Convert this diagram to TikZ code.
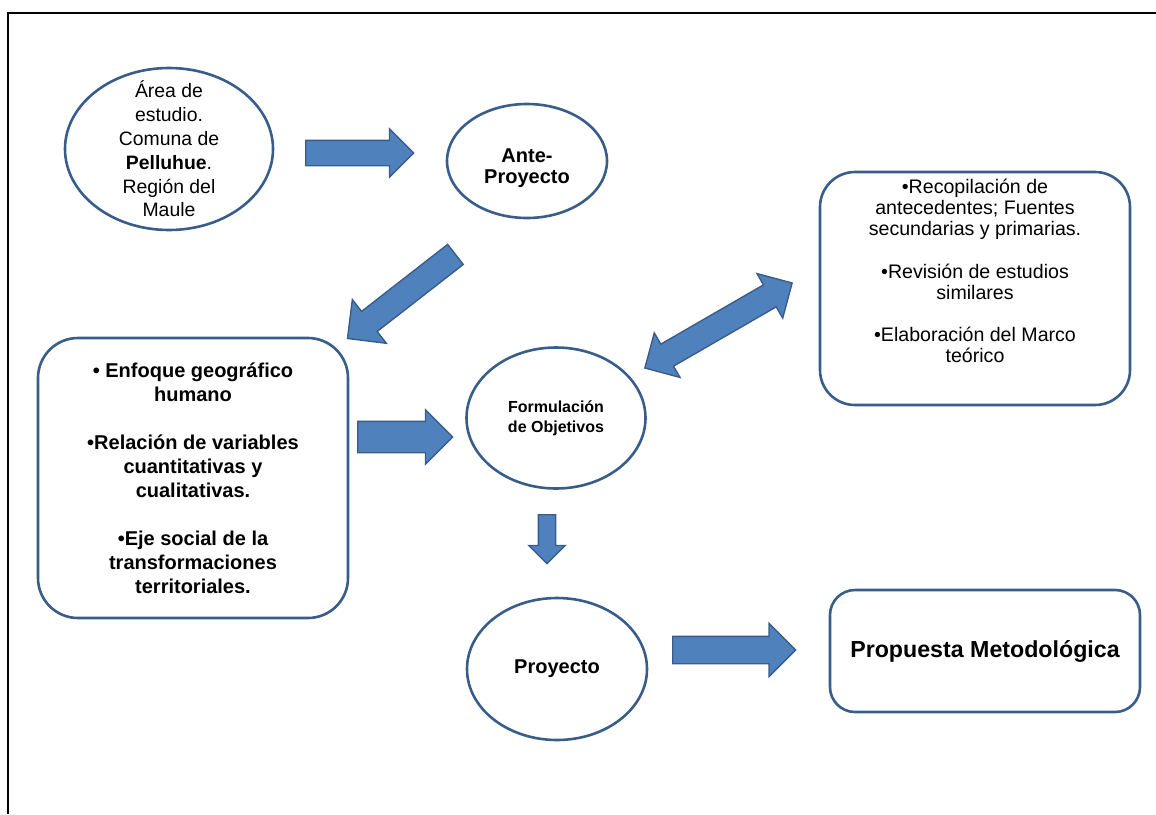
\documentclass[tikz,border=0pt]{standalone}
\usepackage{fontspec}
\setmainfont{Liberation Sans}
\usetikzlibrary{shapes.geometric,shapes.arrows}
\definecolor{azulflecha}{HTML}{4F81BD}
\definecolor{azulborde}{HTML}{385D8A}

\begin{document}
\begin{tikzpicture}[x=0.5pt,y=-0.5pt]
\tikzset{
    elipse/.style={ellipse, draw=azulborde, line width=1.3pt, inner sep=0pt, align=center},
    caja/.style={rectangle, rounded corners=#1, draw=azulborde, line width=1.3pt,
                 inner sep=0pt, align=center},
    caja/.default=20pt,
    flechagorda/.style={single arrow, fill=azulflecha, draw=azulborde, line width=0.7pt,
                        inner xsep=0pt, single arrow tip angle=90, anchor=tail},
    flechadoble/.style={double arrow, fill=azulflecha, draw=azulborde, line width=0.7pt,
                        inner xsep=0pt, double arrow tip angle=90},
    texto/.style={align=center, inner sep=0pt}
}
\useasboundingbox (0,0) rectangle (1156,814);
% marco
\draw[line width=1.1pt] (8,814) -- (8,13) -- (1156,13);

% elipses
\node[elipse, minimum width=104pt, minimum height=81pt] (area) at (169,149) {};
\node[texto, font=\fontsize{9.7}{11.9}\selectfont] (areatxt) at (area.center)
    {Área de\\estudio.\\Comuna de\\\textbf{Pelluhue}.\\Región del\\Maule};
\node[elipse, minimum width=80pt, minimum height=57pt] (ante) at (527,161) {};
\node[texto, font=\bfseries\fontsize{10}{10.5}\selectfont] (antetxt) at ([yshift=-3.5pt]ante.center)
    {Ante-\\Proyecto};
\node[elipse, minimum width=89.5pt, minimum height=70.5pt, font=\bfseries\fontsize{8}{10}\selectfont]
    (formul) at (556,418) {Formulación\\de Objetivos};
\node[elipse, minimum width=90pt, minimum height=71pt, font=\bfseries\fontsize{10}{12}\selectfont]
    (proyecto) at (557,669) {Proyecto};

% cajas
\node[caja, minimum width=155pt, minimum height=140pt, font=\bfseries\fontsize{10}{12}\selectfont]
    (enfoque) at (193,478)
    {• Enfoque geográfico\\humano\\[12pt]•Relación de variables\\cuantitativas y\\cualitativas.\\[12pt]%
     •Eje social de la\\transformaciones\\territoriales.};
\node[caja=17.5pt, minimum width=155pt, minimum height=116.5pt] (recop) at (975,288.5) {};
\node[texto, font=\fontsize{9.8}{10.6}\selectfont] (recoptxt) at ([yshift=8.75pt]recop.center)
    {•Recopilación de\\antecedentes; Fuentes\\secundarias y primarias.\\[10.6pt]%
     •Revisión de estudios\\similares\\[10.6pt]•Elaboración del Marco\\teórico};
\node[caja=12.5pt, minimum width=155pt, minimum height=61pt, font=\bfseries\fontsize{11.6}{13}\selectfont]
    (propuesta) at (985,651) {Propuesta Metodológica};

% flechas
\node[flechagorda, minimum height=54pt, inner ysep=6pt, single arrow head extend=5.75pt]
    (f1) at (305,153) {};
\node[flechagorda, minimum height=68.4pt, inner ysep=6pt, single arrow head extend=7.5pt, rotate=217.9]
    (f2) at (456,254) {};
\node[flechagorda, minimum height=47.5pt, inner ysep=7.5pt, single arrow head extend=5.75pt]
    (f3) at (357,437) {};
\node[flechadoble, minimum height=85pt, inner ysep=6pt, double arrow head extend=6.5pt, rotate=30]
    (f4) at (718.5,325.5) {};
\node[flechagorda, minimum height=24.5pt, inner ysep=4pt, single arrow head extend=4.75pt, rotate=-90]
    (f5) at (547,514) {};
\node[flechagorda, minimum height=61.5pt, inner ysep=6.5pt, single arrow head extend=6.5pt]
    (f6) at (672,650) {};
\end{tikzpicture}
\end{document}
